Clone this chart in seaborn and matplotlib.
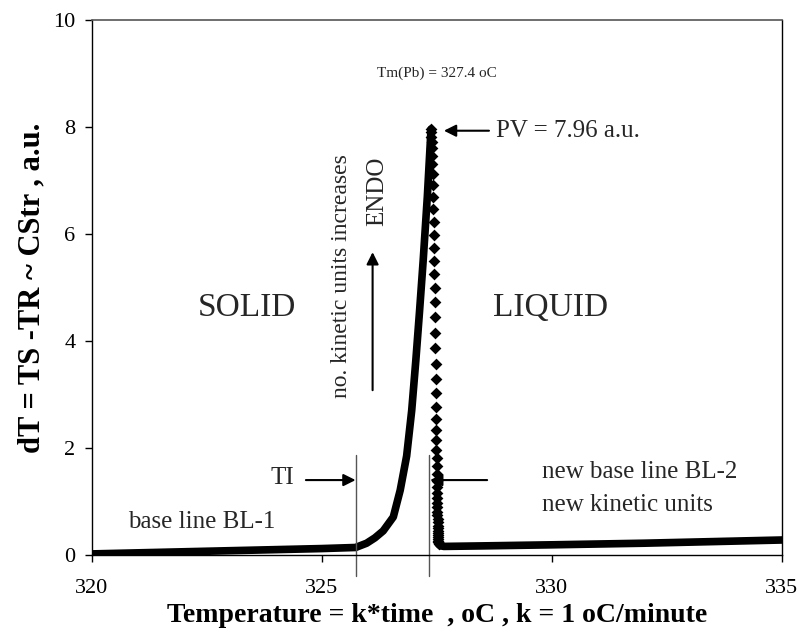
import matplotlib

matplotlib.use("Agg")
import matplotlib.pyplot as plt
import pandas as pd
import seaborn as sns

sns.set_style("ticks")
plt.rcParams["font.family"] = ["Liberation Serif", "DejaVu Serif"]

# solid part of the DTA curve: base line BL-1 and the rising edge up to the peak
rise_temp = [320.0, 321.0, 322.0, 323.0, 324.0, 325.0, 325.73, 325.97, 326.15,
             326.33, 326.55, 326.70, 326.84, 326.95, 327.04, 327.12, 327.20,
             327.29, 327.37]
rise_dt = [0.02, 0.04, 0.06, 0.08, 0.10, 0.12, 0.14, 0.22, 0.32,
           0.45, 0.71, 1.21, 1.85, 2.70, 3.64, 4.55, 5.51,
           6.70, 7.96]

# fall after the peak, separate points
fall_temp = [327.37, 327.375, 327.38, 327.385, 327.39, 327.395, 327.40, 327.405,
             327.41, 327.415, 327.42, 327.425, 327.43, 327.435, 327.44, 327.445,
             327.45, 327.455, 327.46, 327.462, 327.465, 327.468, 327.47, 327.473,
             327.476, 327.479, 327.482, 327.485, 327.488, 327.49, 327.492, 327.494,
             327.496, 327.498, 327.50, 327.502, 327.504, 327.506, 327.508, 327.51,
             327.512, 327.514, 327.516, 327.518, 327.52, 327.522, 327.524, 327.526,
             327.528, 327.53, 327.532, 327.534, 327.536]
fall_dt = [7.96, 7.90, 7.82, 7.72, 7.60, 7.46, 7.30, 7.12, 6.92, 6.70,
           6.46, 6.22, 5.98, 5.74, 5.50, 5.25, 4.99, 4.72, 4.44, 4.15,
           3.86, 3.57, 3.29, 3.02, 2.77, 2.54, 2.33, 2.14, 1.97, 1.81,
           1.66, 1.52, 1.39, 1.27, 1.16, 1.06, 0.97, 0.89, 0.81, 0.74,
           0.67, 0.61, 0.55, 0.50, 0.45, 0.41, 0.37, 0.33, 0.30, 0.27,
           0.24, 0.22, 0.20]

# new base line BL-2
bl2_temp = [327.536, 327.58, 327.65, 328.5, 330.0, 332.0, 333.5, 335.0]
bl2_dt = [0.20, 0.17, 0.16, 0.17, 0.19, 0.22, 0.25, 0.28]

x_ticks = [320, 325, 330, 335]
y_ticks = [0, 2, 4, 6, 8, 10]

ti_temp = 325.73
end_temp = 327.33
peak_temp = 327.37
peak_dt = 7.96

fig, ax = plt.subplots(figsize=(8, 6.36), dpi=100)
fig.subplots_adjust(left=0.115, right=0.9775, bottom=0.1274, top=0.9686)

rise = pd.DataFrame({"T": rise_temp, "dT": rise_dt})
fall = pd.DataFrame({"T": fall_temp, "dT": fall_dt})
bl2 = pd.DataFrame({"T": bl2_temp, "dT": bl2_dt})

sns.lineplot(data=rise, x="T", y="dT", ax=ax, color="black", lw=5.5,
             sort=False, estimator=None, solid_capstyle="round")
sns.lineplot(data=bl2, x="T", y="dT", ax=ax, color="black", lw=5.5,
             sort=False, estimator=None, solid_capstyle="round")
sns.scatterplot(data=fall, x="T", y="dT", ax=ax, color="black", marker="D",
                s=36, linewidth=0)

ax.set_xlim(320, 335)
ax.set_ylim(0, 10)
ax.set_xticks(x_ticks)
ax.set_yticks(y_ticks)
ax.tick_params(direction="out", length=5, width=1, labelsize=16,
               color="black", labelcolor="black", top=False, right=False)
ax.tick_params(axis="x", pad=12)
ax.tick_params(axis="y", pad=7)
for side in ["left", "bottom", "right"]:
    ax.spines[side].set_color("black")
    ax.spines[side].set_linewidth(1)
ax.spines["top"].set_color("#555555")
ax.spines["top"].set_linewidth(1.2)

ax.set_xlabel("Temperature = k*time  , oC , k = 1 oC/minute",
              fontsize=20, fontweight="bold", labelpad=4, color="black")
ax.set_ylabel("dT = TS -TR ~ CStr , a.u.", fontsize=22, fontweight="bold",
              labelpad=5, color="black")

# guide lines at onset (TI) and end of melting
for xv in [ti_temp, end_temp]:
    ax.plot([xv, xv], [-0.4, 1.87], color="#555555", lw=1, clip_on=False)

arrow = dict(arrowstyle="-|>", color="black", lw=1.5, mutation_scale=18,
             shrinkA=0, shrinkB=0)
ax.annotate("", xy=(ti_temp, 1.40), xytext=(324.65, 1.40), arrowprops=arrow)
ax.annotate("", xy=(end_temp + 0.02, 1.40), xytext=(328.59, 1.40),
            arrowprops=arrow)
ax.annotate("", xy=(peak_temp + 0.28, 7.93), xytext=(328.63, 7.93),
            arrowprops=arrow)
ax.annotate("", xy=(326.10, 5.66), xytext=(326.10, 3.08), arrowprops=arrow)

ax.text(324.13, 1.44, "TI", fontsize=18, ha="center", va="center")
ax.text(322.39, 0.62, "base line BL-1", fontsize=18, ha="center", va="center")
ax.text(329.78, 1.55, "new base line BL-2", fontsize=18, ha="left", va="center")
ax.text(329.78, 0.93, "new kinetic units", fontsize=18, ha="left", va="center")
ax.text(323.37, 4.62, "SOLID", fontsize=24, ha="center", va="center")
ax.text(329.96, 4.62, "LIQUID", fontsize=24, ha="center", va="center")
ax.text(327.5, 9.01, "Tm(Pb) = 327.4 oC", fontsize=11, ha="center",
        va="center")
ax.text(328.78, 7.93, f"PV = {peak_dt} a.u.", fontsize=18, ha="left",
        va="center")
ax.text(325.43, 5.21, "no. kinetic units increases", fontsize=17,
        rotation=90, ha="center", va="center")
ax.text(326.2, 6.79, "ENDO", fontsize=18, rotation=90, ha="center",
        va="center")

plt.savefig("out.png", dpi=100)
plt.close()
